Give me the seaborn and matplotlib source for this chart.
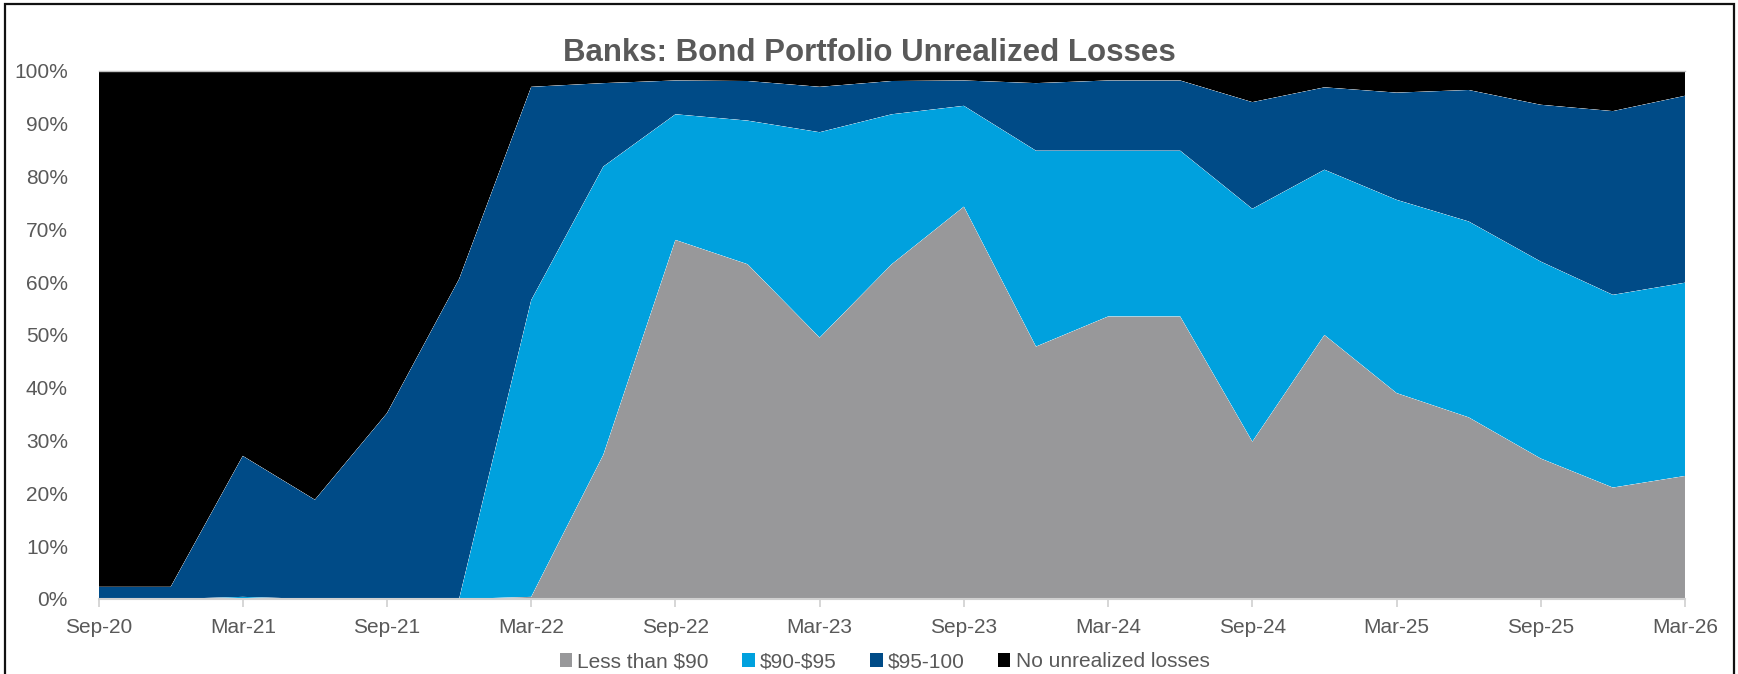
import numpy as np
import pandas as pd
import matplotlib
matplotlib.use("Agg")
import matplotlib.pyplot as plt
from matplotlib.patches import Patch, Rectangle
import seaborn as sns
import seaborn.objects as so

# Quarterly share of bank bond portfolios by price bucket (percent of total)
quarters = ["Sep-20", "Dec-20", "Mar-21", "Jun-21", "Sep-21", "Dec-21",
            "Mar-22", "Jun-22", "Sep-22", "Dec-22", "Mar-23", "Jun-23",
            "Sep-23", "Dec-23", "Mar-24", "Jun-24", "Sep-24", "Dec-24",
            "Mar-25", "Jun-25", "Sep-25", "Dec-25", "Mar-26"]

less_than_90 = [0.0, 0.0, 0.0, 0.0, 0.0, 0.0, 0.4, 27.3, 68.0, 63.4, 49.5, 63.4,
                74.3, 47.8, 53.5, 53.5, 29.8, 50.0, 39.0, 34.4, 26.6, 21.1, 23.3]
from_90_to_95 = [0.0, 0.0, 0.4, 0.0, 0.0, 0.0, 56.2, 54.6, 23.8, 27.2, 38.9, 28.4,
                 19.1, 37.1, 31.4, 31.4, 44.1, 31.3, 36.6, 37.1, 37.3, 36.5, 36.6]
from_95_to_100 = [2.3, 2.3, 26.7, 18.8, 35.2, 60.6, 40.4, 15.8, 6.4, 7.5, 8.6, 6.3,
                  4.8, 12.8, 13.3, 13.3, 20.2, 15.6, 20.3, 24.9, 29.7, 34.8, 35.4]
no_losses = [97.7, 97.7, 72.9, 81.2, 64.8, 39.4, 3.0, 2.3, 1.8, 1.9, 3.0, 1.9,
             1.8, 2.3, 1.8, 1.8, 5.9, 3.1, 4.1, 3.6, 6.4, 7.6, 4.7]

buckets = ["Less than $90", "$90-$95", "$95-100", "No unrealized losses"]
bucket_colors = ["#98989a", "#00a1de", "#004b87", "#000000"]
y_ticks = list(range(0, 101, 10))

series = [less_than_90, from_90_to_95, from_95_to_100, no_losses]
qpos = np.arange(len(quarters))
df = pd.concat(
    [pd.DataFrame({"q": qpos, "share": vals, "bucket": name})
     for name, vals in zip(buckets, series)],
    ignore_index=True,
)

sns.set_theme(style="white")
plt.rcParams["font.family"] = ["Liberation Sans Narrow", "Liberation Sans", "DejaVu Sans"]
plt.rcParams["text.parse_math"] = False

text_gray = "#595959"
fig = plt.figure(figsize=(17.38, 6.74), dpi=100)
ax = fig.add_axes([0.0567, 0.1113, 0.9128, 0.7834])

(
    so.Plot(df, x="q", y="share", color="bucket")
    .add(so.Area(alpha=1, edgewidth=0), so.Stack(), legend=False)
    .scale(color=so.Nominal(bucket_colors, order=buckets))
    .on(ax)
    .plot()
)

ax.set_xlim(0, len(quarters) - 1)
ax.set_ylim(0, 100)
ax.set_xlabel("")
ax.set_ylabel("")
ax.grid(False)
ax.set_facecolor("white")

ax.set_xticks(qpos[::2])
ax.set_xticklabels(quarters[::2])
ax.set_yticks(y_ticks)
ax.set_yticklabels([f"{v}%" for v in y_ticks])
ax.tick_params(axis="x", colors="#d0d0d0", length=6, width=1.2, pad=8,
               labelsize=15, labelcolor=text_gray, bottom=True, direction="out")
ax.tick_params(axis="y", length=0, pad=22, labelsize=15, labelcolor=text_gray)

for side in ["left", "right"]:
    ax.spines[side].set_visible(False)
ax.spines["bottom"].set_color("#d0d0d0")
ax.spines["bottom"].set_linewidth(1.5)
ax.spines["top"].set_color("#bfbfbf")
ax.spines["top"].set_linewidth(1.0)

fig.text(0.5, 0.9095, "Banks: Bond Portfolio Unrealized Losses",
         ha="center", va="baseline", fontsize=22.5, fontweight="bold",
         color=text_gray)

handles = [Patch(facecolor=c, edgecolor="none", label=b)
           for b, c in zip(buckets, bucket_colors)]
fig.legend(handles=handles, loc="center", bbox_to_anchor=(0.509, 0.018),
           ncol=4, frameon=False, fontsize=15, labelcolor=text_gray,
           handlelength=0.6, handleheight=0.6, handletextpad=0.25,
           columnspacing=1.6)

fig.patches.append(Rectangle((5 / 1738, -0.01), 1729 / 1738, 1 - 4 / 674 + 0.01,
                             transform=fig.transFigure, fill=False,
                             edgecolor="#111111", linewidth=1.6))

fig.savefig("out.png", dpi=100)
